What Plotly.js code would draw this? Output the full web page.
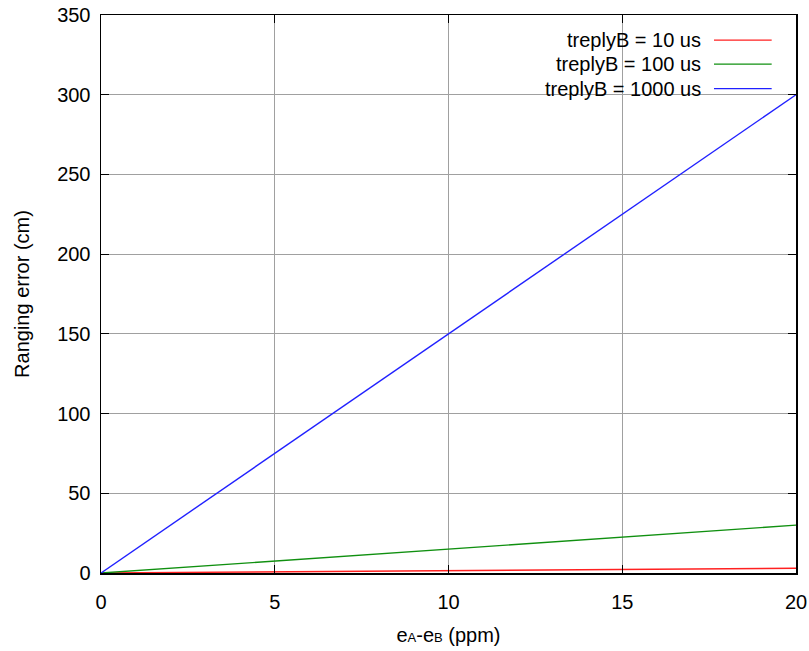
<!DOCTYPE html>
<html>
<head>
<meta charset="utf-8">
<script src="https://cdn.plot.ly/plotly-3.0.1.min.js"></script>
<style>html,body{margin:0;padding:0;background:#fff;}#chart{width:809px;height:651px;}</style>
</head>
<body>
<div id="chart"></div>
<script>
// Data
const xPpm = [0, 5, 10, 15, 20];
const err10us = [0, 0.75, 1.5, 2.25, 3];
const err100us = [0, 7.5, 15, 22.5, 30];
const err1000us = [0, 75, 150, 225, 300];
const seriesNames = ["treplyB = 10 us", "treplyB = 100 us", "treplyB = 1000 us"];
const seriesColors = ["#ff2020", "#109010", "#2020ff"];
const xTicks = [0, 5, 10, 15, 20];
const yTicks = [0, 50, 100, 150, 200, 250, 300, 350];

const FONT = 'Liberation Sans, Arial, sans-serif';
const ys = [err10us, err100us, err1000us];
const traces = ys.map((y, i) => ({
  x: xPpm, y: y, type: 'scatter', mode: 'lines', name: seriesNames[i],
  line: {color: seriesColors[i], width: 1.4}, showlegend: false
}));

// Legend drawn gnuplot-style: text right-aligned, sample line to its right
const annotations = [];
const shapes = [];
const rowY = [0.955, 0.912, 0.868];
seriesNames.forEach((n, i) => {
  annotations.push({xref: 'paper', yref: 'paper', x: 0.866, y: rowY[i], xanchor: 'right', yanchor: 'middle',
    text: n, showarrow: false, font: {family: FONT, size: 20, color: '#000'}});
  shapes.push({type: 'line', xref: 'paper', yref: 'paper', x0: 0.882, x1: 0.965, y0: rowY[i], y1: rowY[i],
    line: {color: seriesColors[i], width: 1.4}});
});

const axisCommon = {
  showline: true, linecolor: '#000', linewidth: 1.5, mirror: 'ticks',
  ticks: 'inside', ticklen: 8, tickcolor: '#000', tickwidth: 1,
  showgrid: true, gridcolor: '#a0a0a0', gridwidth: 1, zeroline: false,
  tickfont: {family: FONT, size: 20, color: '#000'}
};

const layout = {
  width: 809, height: 651,
  margin: {l: 101, r: 13, t: 15, b: 78},
  paper_bgcolor: '#fff', plot_bgcolor: '#fff',
  font: {family: FONT, color: '#000'},
  xaxis: Object.assign({}, axisCommon, {
    range: [0, 20], tickvals: xTicks, ticktext: xTicks.map(String), ticklabelstandoff: 10,
    title: {text: 'e<span style="font-size:13px">A</span>-e<span style="font-size:13px">B</span> (ppm)', font: {size: 20}, standoff: 16}
  }),
  yaxis: Object.assign({}, axisCommon, {
    range: [0, 350], tickvals: yTicks, ticktext: yTicks.map(String), ticklabelstandoff: 5,
    title: {text: 'Ranging error (cm)', font: {size: 20}, standoff: 22}
  }),
  annotations: annotations,
  shapes: shapes,
  showlegend: false
};

Plotly.newPlot('chart', traces, layout, {displayModeBar: false, staticPlot: true});
</script>
</body>
</html>
